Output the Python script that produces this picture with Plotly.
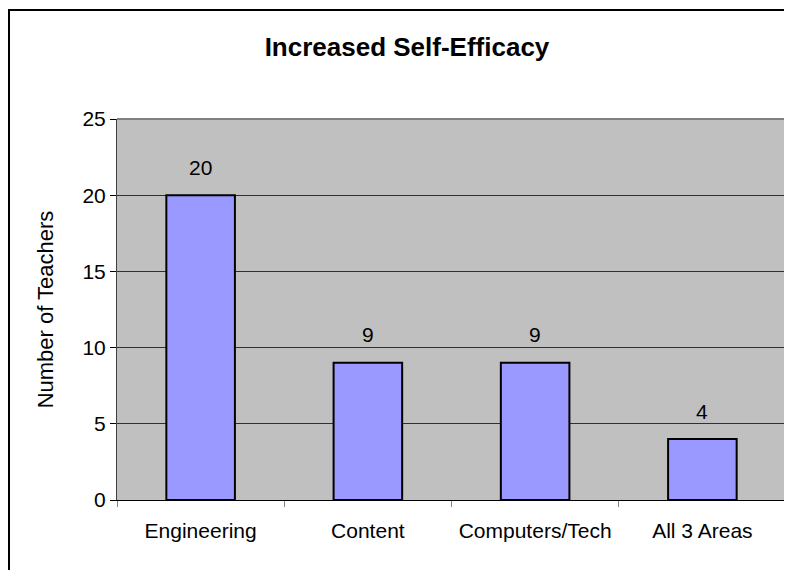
import plotly.graph_objects as go

categories = ["Engineering", "Content", "Computers/Tech", "All 3 Areas"]
values = [20, 9, 9, 4]
y_ticks = [0, 5, 10, 15, 20, 25]

FONT = "Liberation Sans, Arial, sans-serif"

# figure is drawn inside an 8px body margin of the page
W, H = 784, 562
L, R, T, B = 109, 6, 111, 70
PW, PH = W - L - R, H - T - B

fig = go.Figure()
fig.add_trace(go.Bar(
    x=categories, y=values, width=0.41,
    marker=dict(color="#9999FF", line=dict(color="#000000", width=2)),
    hoverinfo="skip",
))

for c, v in zip(categories, values):
    fig.add_annotation(x=c, y=v, text=str(v), showarrow=False, yshift=28,
                       font=dict(family=FONT, size=21, color="#000000"))

fig.update_layout(
    width=W, height=H,
    margin=dict(l=L, r=R, t=T, b=B),
    paper_bgcolor="#FFFFFF", plot_bgcolor="#C0C0C0",
    showlegend=False,
    title=dict(text="<b>Increased Self-Efficacy</b>", x=399 / W, xanchor="center",
               y=1 - 39 / H, yanchor="middle",
               font=dict(family=FONT, size=26, color="#000000")),
    font=dict(family=FONT, size=21, color="#000000"),
    bargap=0.59,
)

fig.update_xaxes(
    type="category", tickson="boundaries", ticks="outside", ticklen=6,
    tickcolor="#808080", showline=True, linecolor="#000000", linewidth=1,
    showgrid=False, tickfont=dict(family=FONT, size=21), ticklabelstandoff=12,
)
fig.update_yaxes(
    range=[0, 25], tickvals=y_ticks, ticks="outside", ticklen=6,
    tickcolor="#000000", showline=True, linecolor="#404040", linewidth=1,
    showgrid=True, gridcolor="#303030", gridwidth=1, zeroline=False,
    tickfont=dict(family=FONT, size=21),
    title=dict(text="Number of Teachers", font=dict(family=FONT, size=22), standoff=22),
)

# plot-area border (gray)
fig.add_shape(type="line", xref="paper", yref="paper", x0=0, x1=1, y0=1, y1=1,
              line=dict(color="#808080", width=2), layer="above")
fig.add_shape(type="line", xref="paper", yref="paper", x0=1, x1=1, y0=0, y1=1,
              line=dict(color="#808080", width=3), layer="above")
# outer chart border
fig.add_shape(type="rect", xref="paper", yref="paper",
              x0=(1 - L) / PW, x1=1 + 30 / PW, y0=-(B + 30) / PH, y1=1 + (T - 2) / PH,
              line=dict(color="#000000", width=2), layer="above")

fig.write_html("out.html")
